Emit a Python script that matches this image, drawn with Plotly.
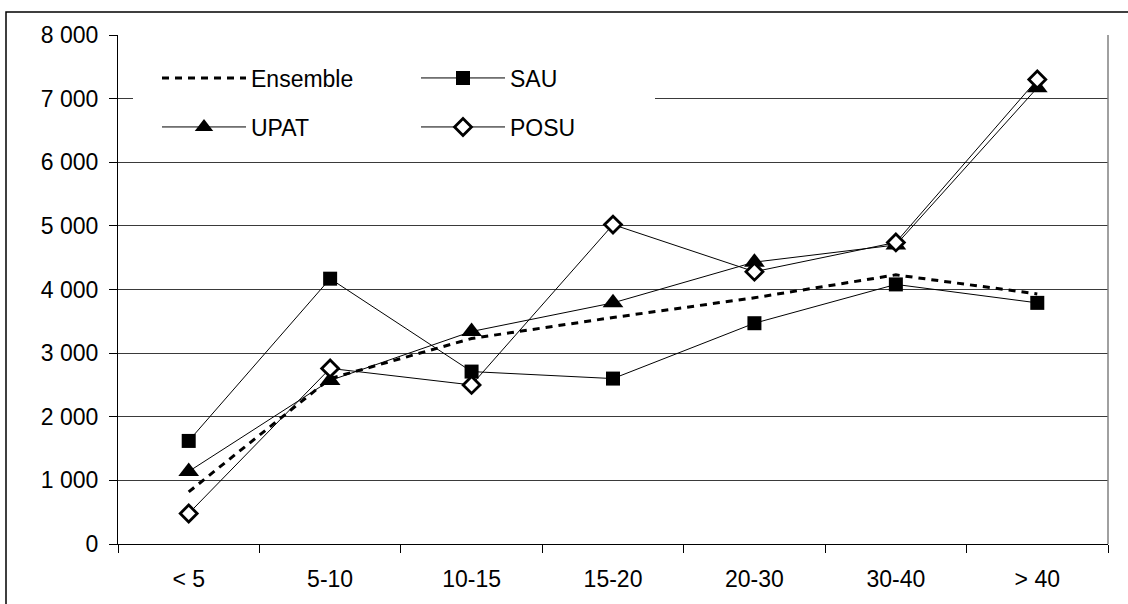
import plotly.graph_objects as go

categories = ["< 5", "5-10", "10-15", "15-20", "20-30", "30-40", "> 40"]
ensemble = [820, 2600, 3230, 3560, 3870, 4230, 3930]
sau = [1620, 4170, 2710, 2600, 3470, 4080, 3790]
upat = [1140, 2570, 3340, 3790, 4430, 4700, 7170]
posu = [480, 2760, 2500, 5020, 4280, 4740, 7300]

FONT = "Liberation Sans, Arial, sans-serif"

fig = go.Figure()
fig.add_trace(go.Scatter(x=categories, y=ensemble, name="Ensemble", mode="lines",
                         line=dict(color="black", width=3, dash="7px,6px"),
                         legend="legend"))
fig.add_trace(go.Scatter(x=categories, y=sau, name="SAU", mode="lines+markers",
                         line=dict(color="black", width=1),
                         marker=dict(symbol="square", size=14, color="black"),
                         legend="legend"))
fig.add_trace(go.Scatter(x=categories, y=upat, name="UPAT", mode="lines+markers",
                         line=dict(color="black", width=1),
                         marker=dict(symbol="triangle-up", size=18, color="black"),
                         legend="legend2"))
fig.add_trace(go.Scatter(x=categories, y=posu, name="POSU", mode="lines+markers",
                         line=dict(color="black", width=1),
                         marker=dict(symbol="diamond", size=13, color="white",
                                     line=dict(color="black", width=2.8)),
                         legend="legend2"))

L, R, T, B = 118, 20, 35, 60
W, H = 1128, 604
pw, ph = W - L - R, H - T - B

def px_x(x):
    return (x - L) / pw

def px_y(y):
    return (H - B - y) / ph

legend_common = dict(orientation="h", xanchor="left", yanchor="middle",
                     bgcolor="rgba(0,0,0,0)", borderwidth=0,
                     font=dict(family=FONT, size=23, color="black"),
                     itemwidth=84, entrywidth=160, traceorder="normal")

fig.update_layout(
    width=W, height=H,
    margin=dict(l=L, r=R, t=T, b=B, pad=0),
    paper_bgcolor="white", plot_bgcolor="white",
    separators=". ",
    font=dict(family=FONT, size=23, color="black"),
    showlegend=True,
    legend=dict(x=px_x(157), y=px_y(78), **legend_common),
    legend2=dict(x=px_x(157), y=px_y(127), **legend_common),
    xaxis=dict(type="category", showgrid=False, showline=True, linecolor="black",
               linewidth=1, ticks="outside", ticklen=8, tickcolor="black",
               tickson="boundaries", ticklabelstandoff=14,
               tickfont=dict(family=FONT, size=23, color="black"),
               range=[-0.5, 6.5], zeroline=False),
    yaxis=dict(range=[0, 8000], dtick=1000, tickformat=",", showgrid=True,
               gridcolor="#3a3a3a", gridwidth=1, showline=True, linecolor="black",
               linewidth=1, ticks="outside", ticklen=8, tickcolor="black",
               ticklabelstandoff=6,
               tickfont=dict(family=FONT, size=23, color="black"), zeroline=False),
    shapes=[
        # legend background box
        dict(type="rect", xref="paper", yref="paper",
             x0=px_x(133), x1=px_x(655), y0=px_y(155), y1=px_y(48),
             fillcolor="white", line=dict(width=0), layer="above"),
        # right border of plot area
        dict(type="line", xref="paper", yref="paper", x0=1, x1=1, y0=0, y1=1,
             line=dict(color="#808080", width=1.5)),
        # outer chart frame
        dict(type="rect", xref="paper", yref="paper",
             x0=px_x(6), x1=px_x(1140), y0=px_y(620), y1=px_y(12),
             line=dict(color="black", width=1.5), fillcolor="rgba(0,0,0,0)"),
    ],
)

fig.write_html("out.html")
